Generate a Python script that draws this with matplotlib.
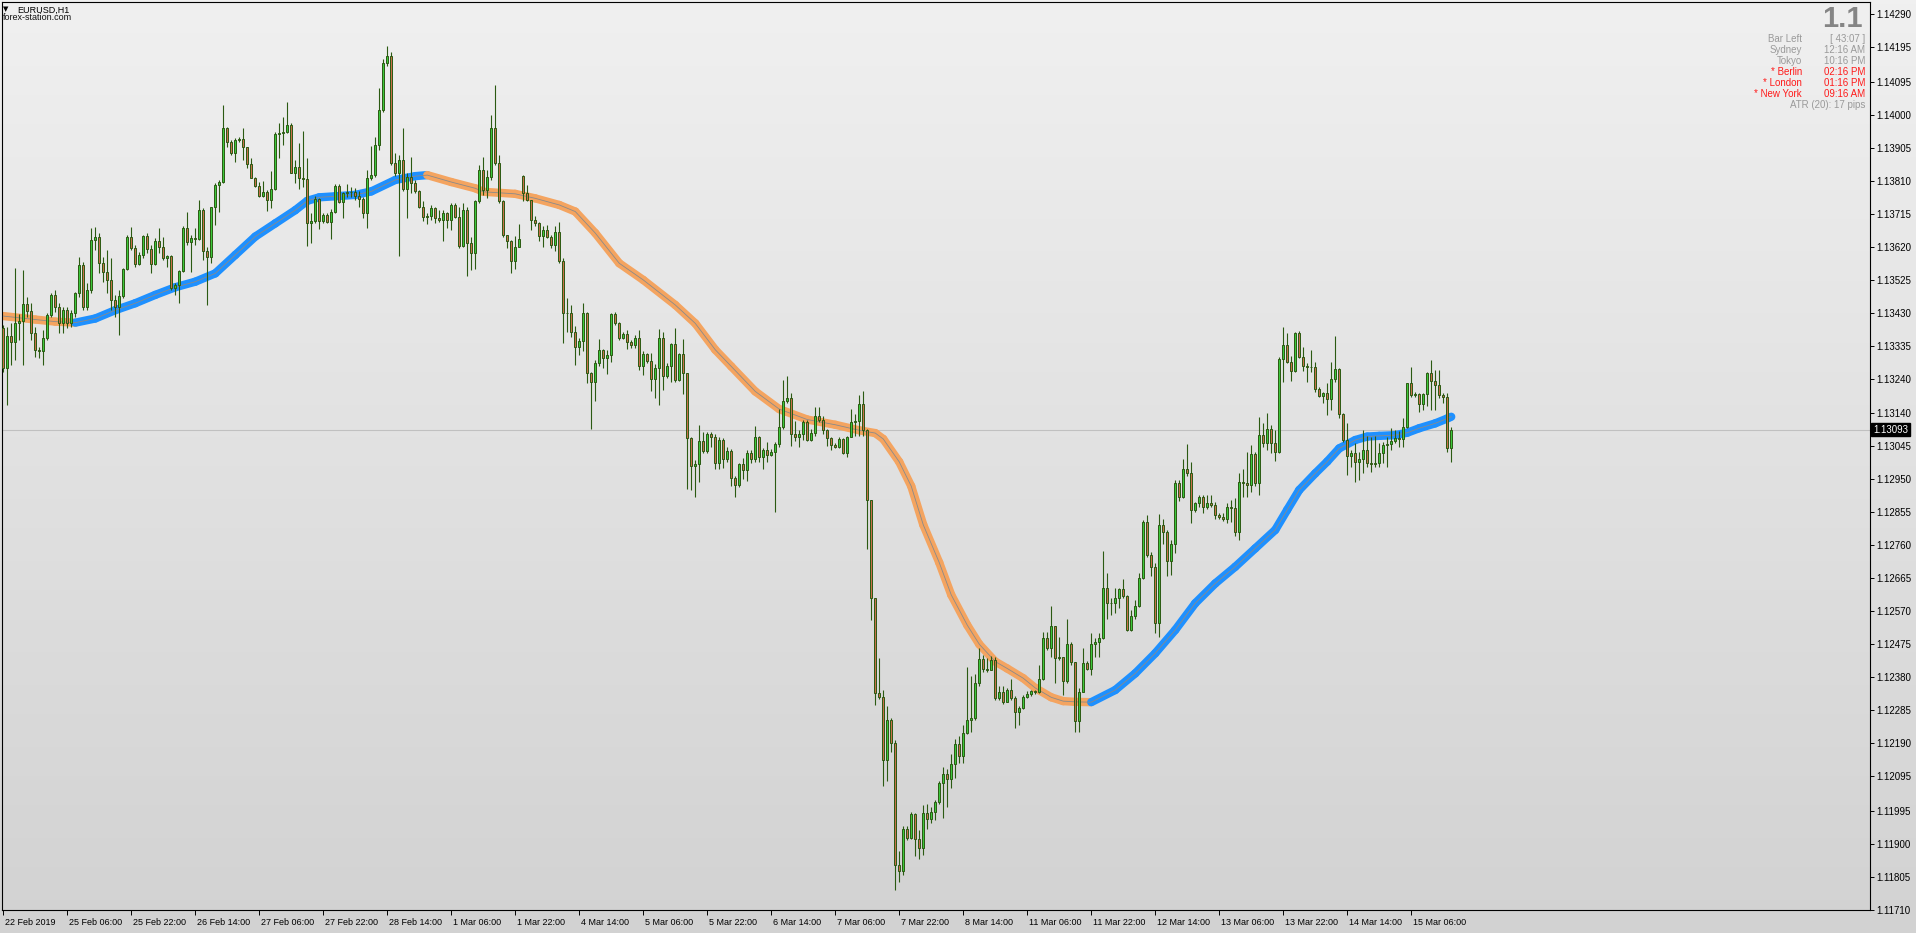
import numpy as np
import matplotlib
matplotlib.use("Agg")
import matplotlib.pyplot as plt
import matplotlib.transforms as mtransforms
from matplotlib.collections import LineCollection
from matplotlib.colors import LinearSegmentedColormap

plt.rcParams['font.family'] = ['Liberation Sans', 'DejaVu Sans']

# EURUSD H1 bars, 22 Feb 2019 14:00 .. 15 Mar 2019 16:00
opens = [
    1.13385, 1.13269, 1.13363, 1.13344, 1.13399, 1.13406, 1.13454, 1.13435, 1.13372, 1.13322,
    1.13320, 1.13356, 1.13422, 1.13481, 1.13447, 1.13399, 1.13437, 1.13399, 1.13428, 1.13485,
    1.13567, 1.13447, 1.13495, 1.13639, 1.13649, 1.13572, 1.13548, 1.13524, 1.13466, 1.13447,
    1.13478, 1.13555, 1.13649, 1.13615, 1.13569, 1.13596, 1.13651, 1.13612, 1.13569, 1.13635,
    1.13620, 1.13586, 1.13593, 1.13500, 1.13509, 1.13550, 1.13673, 1.13634, 1.13644, 1.13643,
    1.13725, 1.13607, 1.13589, 1.13733, 1.13797, 1.13807, 1.13961, 1.13920, 1.13889, 1.13927,
    1.13930, 1.13906, 1.13857, 1.13819, 1.13795, 1.13767, 1.13778, 1.13754, 1.13786, 1.13943,
    1.13948, 1.13949, 1.13970, 1.13833, 1.13848, 1.13819, 1.13814, 1.13689, 1.13694, 1.13756,
    1.13695, 1.13711, 1.13692, 1.13719, 1.13796, 1.13749, 1.13773, 1.13776, 1.13778, 1.13767,
    1.13756, 1.13718, 1.13819, 1.13826, 1.13912, 1.14014, 1.14150, 1.14170, 1.13862, 1.13831,
    1.13870, 1.13785, 1.13820, 1.13803, 1.13779, 1.13733, 1.13705, 1.13709, 1.13731, 1.13702,
    1.13697, 1.13718, 1.13697, 1.13740, 1.13705, 1.13622, 1.13726, 1.13630, 1.13603, 1.13750,
    1.13841, 1.13783, 1.13820, 1.13961, 1.13862, 1.13750, 1.13654, 1.13635, 1.13580, 1.13620,
    1.13822, 1.13774, 1.13753, 1.13697, 1.13687, 1.13652, 1.13668, 1.13649, 1.13625, 1.13661,
    1.13580, 1.13428, 1.13430, 1.13375, 1.13332, 1.13347, 1.13428, 1.13257, 1.13229, 1.13284,
    1.13323, 1.13299, 1.13308, 1.13426, 1.13399, 1.13356, 1.13368, 1.13344, 1.13336, 1.13356,
    1.13275, 1.13310, 1.13292, 1.13238, 1.13270, 1.13356, 1.13248, 1.13277, 1.13340, 1.13236,
    1.13311, 1.13257, 1.13068, 1.12989, 1.12995, 1.13061, 1.13030, 1.13081, 1.13073, 1.12996,
    1.13063, 1.13008, 1.13031, 1.12955, 1.12933, 1.12993, 1.12978, 1.13026, 1.13008, 1.13071,
    1.13013, 1.13033, 1.13019, 1.13029, 1.13051, 1.13100, 1.13174, 1.13184, 1.13081, 1.13073,
    1.13079, 1.13114, 1.13063, 1.13083, 1.13132, 1.13120, 1.13091, 1.13069, 1.13048, 1.13043,
    1.13066, 1.13026, 1.13073, 1.13114, 1.13117, 1.13167, 1.13091, 1.12889, 1.12607, 1.12334,
    1.12322, 1.12142, 1.12258, 1.12190, 1.11839, 1.11821, 1.11942, 1.11918, 1.11985, 1.11915,
    1.11889, 1.11988, 1.11972, 1.11993, 1.12021, 1.12076, 1.12100, 1.12086, 1.12130, 1.12187,
    1.12152, 1.12218, 1.12258, 1.12263, 1.12364, 1.12433, 1.12405, 1.12400, 1.12430, 1.12319,
    1.12336, 1.12309, 1.12344, 1.12319, 1.12281, 1.12291, 1.12322, 1.12332, 1.12339, 1.12338,
    1.12376, 1.12492, 1.12465, 1.12528, 1.12435, 1.12437, 1.12369, 1.12477, 1.12423, 1.12253,
    1.12336, 1.12420, 1.12405, 1.12477, 1.12482, 1.12492, 1.12636, 1.12593, 1.12595, 1.12607,
    1.12633, 1.12614, 1.12516, 1.12556, 1.12585, 1.12665, 1.12826, 1.12732, 1.12696, 1.12537,
    1.12818, 1.12799, 1.12716, 1.12765, 1.12938, 1.12898, 1.12979, 1.12967, 1.12861, 1.12881,
    1.12898, 1.12871, 1.12883, 1.12876, 1.12847, 1.12842, 1.12837, 1.12869, 1.12868, 1.12799,
    1.12943, 1.12940, 1.12933, 1.13023, 1.12938, 1.13077, 1.13055, 1.13094, 1.13055, 1.13029,
    1.13295, 1.13336, 1.13289, 1.13263, 1.13372, 1.13303, 1.13276, 1.13272, 1.13274, 1.13209,
    1.13190, 1.13197, 1.13180, 1.13238, 1.13267, 1.13138, 1.13063, 1.13017, 1.13025, 1.13001,
    1.13007, 1.13034, 1.12998, 1.12994, 1.12998, 1.13025, 1.13049, 1.13051, 1.13061, 1.13069,
    1.13065, 1.13100, 1.13226, 1.13193, 1.13196, 1.13167, 1.13196, 1.13255, 1.13234, 1.13221,
    1.13193, 1.13186, 1.13039,
]
highs = [
    1.13394, 1.13389, 1.13399, 1.13557, 1.13425, 1.13553, 1.13476, 1.13457, 1.13389, 1.13332,
    1.13380, 1.13428, 1.13485, 1.13495, 1.13457, 1.13447, 1.13447, 1.13437, 1.13490, 1.13591,
    1.13577, 1.13514, 1.13675, 1.13677, 1.13658, 1.13591, 1.13610, 1.13586, 1.13481, 1.13495,
    1.13559, 1.13653, 1.13677, 1.13625, 1.13605, 1.13653, 1.13658, 1.13625, 1.13644, 1.13675,
    1.13649, 1.13596, 1.13596, 1.13514, 1.13553, 1.13679, 1.13721, 1.13653, 1.13673, 1.13754,
    1.13730, 1.13620, 1.13735, 1.13802, 1.13812, 1.14028, 1.13965, 1.13927, 1.13932, 1.13937,
    1.13961, 1.13908, 1.13874, 1.13821, 1.13807, 1.13809, 1.13783, 1.13838, 1.13951, 1.13975,
    1.13994, 1.14037, 1.13975, 1.13869, 1.13917, 1.13954, 1.13874, 1.13716, 1.13766, 1.13759,
    1.13716, 1.13716, 1.13727, 1.13799, 1.13800, 1.13778, 1.13799, 1.13793, 1.13788, 1.13781,
    1.13764, 1.13841, 1.13910, 1.13937, 1.14076, 1.14160, 1.14198, 1.14180, 1.13889, 1.13884,
    1.13961, 1.13831, 1.13877, 1.13812, 1.13783, 1.13750, 1.13716, 1.13740, 1.13735, 1.13726,
    1.13726, 1.13720, 1.13745, 1.13747, 1.13735, 1.13747, 1.13735, 1.13649, 1.13755, 1.13855,
    1.13877, 1.13841, 1.13999, 1.14086, 1.13884, 1.13755, 1.13654, 1.13639, 1.13651, 1.13686,
    1.13827, 1.13798, 1.13755, 1.13707, 1.13692, 1.13678, 1.13683, 1.13654, 1.13678, 1.13692,
    1.13587, 1.13471, 1.13452, 1.13390, 1.13356, 1.13457, 1.13433, 1.13260, 1.13294, 1.13353,
    1.13325, 1.13323, 1.13428, 1.13433, 1.13404, 1.13375, 1.13380, 1.13351, 1.13366, 1.13380,
    1.13318, 1.13315, 1.13315, 1.13283, 1.13382, 1.13375, 1.13286, 1.13342, 1.13385, 1.13315,
    1.13353, 1.13257, 1.13073, 1.13006, 1.13107, 1.13087, 1.13087, 1.13087, 1.13081, 1.13073,
    1.13068, 1.13044, 1.13036, 1.12960, 1.12998, 1.13011, 1.13033, 1.13033, 1.13104, 1.13076,
    1.13041, 1.13056, 1.13036, 1.13056, 1.13152, 1.13235, 1.13248, 1.13197, 1.13117, 1.13091,
    1.13122, 1.13122, 1.13096, 1.13157, 1.13157, 1.13132, 1.13096, 1.13071, 1.13053, 1.13071,
    1.13069, 1.13076, 1.13152, 1.13137, 1.13192, 1.13205, 1.13096, 1.12891, 1.12609, 1.12435,
    1.12344, 1.12298, 1.12263, 1.12200, 1.11879, 1.11950, 1.11950, 1.11992, 1.11990, 1.11940,
    1.12012, 1.12016, 1.12006, 1.12026, 1.12081, 1.12122, 1.12117, 1.12160, 1.12202, 1.12211,
    1.12243, 1.12410, 1.12384, 1.12389, 1.12463, 1.12445, 1.12435, 1.12440, 1.12437, 1.12354,
    1.12354, 1.12349, 1.12374, 1.12326, 1.12298, 1.12329, 1.12339, 1.12344, 1.12344, 1.12414,
    1.12511, 1.12511, 1.12586, 1.12528, 1.12497, 1.12437, 1.12548, 1.12480, 1.12425, 1.12349,
    1.12465, 1.12427, 1.12508, 1.12492, 1.12506, 1.12744, 1.12679, 1.12607, 1.12636, 1.12636,
    1.12662, 1.12617, 1.12573, 1.12602, 1.12679, 1.12833, 1.12847, 1.12741, 1.12708, 1.12850,
    1.12837, 1.12804, 1.12775, 1.12948, 1.12948, 1.13007, 1.13052, 1.13001, 1.12885, 1.12905,
    1.12905, 1.12905, 1.12905, 1.12885, 1.12852, 1.12854, 1.12881, 1.12890, 1.12895, 1.12969,
    1.12981, 1.13029, 1.13049, 1.13029, 1.13130, 1.13113, 1.13140, 1.13106, 1.13092, 1.13303,
    1.13388, 1.13372, 1.13305, 1.13375, 1.13378, 1.13330, 1.13284, 1.13322, 1.13289, 1.13217,
    1.13202, 1.13226, 1.13289, 1.13363, 1.13269, 1.13142, 1.13111, 1.13034, 1.13053, 1.13029,
    1.13092, 1.13075, 1.13071, 1.13075, 1.13053, 1.13058, 1.13073, 1.13097, 1.13092, 1.13090,
    1.13125, 1.13228, 1.13274, 1.13202, 1.13197, 1.13197, 1.13260, 1.13293, 1.13265, 1.13265,
    1.13199, 1.13197, 1.13101,
]
lows = [
    1.13260, 1.13164, 1.13279, 1.13293, 1.13351, 1.13279, 1.13418, 1.13351, 1.13303, 1.13298,
    1.13279, 1.13351, 1.13418, 1.13433, 1.13372, 1.13370, 1.13385, 1.13389, 1.13418, 1.13476,
    1.13437, 1.13437, 1.13485, 1.13610, 1.13543, 1.13519, 1.13485, 1.13437, 1.13418, 1.13365,
    1.13471, 1.13553, 1.13610, 1.13562, 1.13567, 1.13586, 1.13601, 1.13543, 1.13567, 1.13601,
    1.13581, 1.13562, 1.13495, 1.13481, 1.13457, 1.13548, 1.13625, 1.13548, 1.13625, 1.13639,
    1.13581, 1.13452, 1.13572, 1.13682, 1.13721, 1.13802, 1.13908, 1.13884, 1.13865, 1.13922,
    1.13869, 1.13845, 1.13817, 1.13793, 1.13762, 1.13764, 1.13723, 1.13730, 1.13783, 1.13874,
    1.13913, 1.13946, 1.13831, 1.13802, 1.13786, 1.13793, 1.13623, 1.13629, 1.13687, 1.13670,
    1.13687, 1.13687, 1.13642, 1.13716, 1.13745, 1.13701, 1.13764, 1.13764, 1.13754, 1.13735,
    1.13701, 1.13673, 1.13812, 1.13820, 1.13899, 1.14009, 1.14140, 1.13855, 1.13822, 1.13594,
    1.13779, 1.13702, 1.13774, 1.13774, 1.13731, 1.13695, 1.13685, 1.13697, 1.13687, 1.13692,
    1.13637, 1.13673, 1.13668, 1.13702, 1.13615, 1.13620, 1.13534, 1.13553, 1.13555, 1.13745,
    1.13769, 1.13759, 1.13812, 1.13855, 1.13745, 1.13649, 1.13615, 1.13545, 1.13555, 1.13630,
    1.13750, 1.13750, 1.13668, 1.13678, 1.13637, 1.13618, 1.13644, 1.13615, 1.13606, 1.13572,
    1.13342, 1.13375, 1.13361, 1.13279, 1.13308, 1.13318, 1.13227, 1.13094, 1.13174, 1.13275,
    1.13270, 1.13253, 1.13289, 1.13395, 1.13351, 1.13353, 1.13325, 1.13327, 1.13327, 1.13265,
    1.13251, 1.13284, 1.13205, 1.13183, 1.13164, 1.13207, 1.13241, 1.13231, 1.13231, 1.13234,
    1.13196, 1.12921, 1.12919, 1.12898, 1.12943, 1.13025, 1.13025, 1.13044, 1.12979, 1.12979,
    1.12982, 1.13001, 1.12930, 1.12899, 1.12928, 1.12950, 1.12945, 1.12998, 1.13000, 1.13000,
    1.12980, 1.13000, 1.13016, 1.12857, 1.13043, 1.13096, 1.13170, 1.13046, 1.13061, 1.13043,
    1.13063, 1.13059, 1.13059, 1.13076, 1.13114, 1.13081, 1.13046, 1.13033, 1.13039, 1.13041,
    1.13023, 1.13013, 1.13071, 1.13076, 1.13076, 1.13076, 1.12748, 1.12544, 1.12299, 1.12316,
    1.12066, 1.12081, 1.12164, 1.11768, 1.11790, 1.11809, 1.11910, 1.11915, 1.11864, 1.11857,
    1.11869, 1.11942, 1.11960, 1.11970, 1.12016, 1.11975, 1.12006, 1.12061, 1.12091, 1.12132,
    1.12132, 1.12215, 1.12223, 1.12258, 1.12354, 1.12394, 1.12394, 1.12400, 1.12314, 1.12314,
    1.12304, 1.12309, 1.12314, 1.12233, 1.12243, 1.12288, 1.12319, 1.12326, 1.12332, 1.12334,
    1.12372, 1.12457, 1.12437, 1.12364, 1.12430, 1.12329, 1.12364, 1.12415, 1.12223, 1.12221,
    1.12336, 1.12400, 1.12386, 1.12439, 1.12439, 1.12489, 1.12549, 1.12559, 1.12564, 1.12578,
    1.12607, 1.12514, 1.12514, 1.12549, 1.12583, 1.12662, 1.12727, 1.12670, 1.12506, 1.12497,
    1.12765, 1.12671, 1.12674, 1.12737, 1.12888, 1.12895, 1.12958, 1.12823, 1.12857, 1.12871,
    1.12852, 1.12863, 1.12871, 1.12837, 1.12837, 1.12831, 1.12825, 1.12828, 1.12787, 1.12775,
    1.12898, 1.12900, 1.12914, 1.12931, 1.12905, 1.13044, 1.13034, 1.13025, 1.13004, 1.13027,
    1.13231, 1.13284, 1.13234, 1.13260, 1.13298, 1.13263, 1.13231, 1.13260, 1.13202, 1.13186,
    1.13171, 1.13135, 1.13149, 1.13231, 1.13125, 1.13058, 1.12962, 1.12986, 1.12943, 1.12948,
    1.12967, 1.12986, 1.12972, 1.12986, 1.12986, 1.12996, 1.12986, 1.13034, 1.13055, 1.13044,
    1.13044, 1.13097, 1.13186, 1.13186, 1.13145, 1.13149, 1.13161, 1.13149, 1.13149, 1.13183,
    1.13169, 1.13029, 1.13001,
]
closes = [
    1.13269, 1.13363, 1.13344, 1.13399, 1.13406, 1.13454, 1.13435, 1.13372, 1.13322, 1.13320,
    1.13356, 1.13422, 1.13481, 1.13447, 1.13399, 1.13437, 1.13399, 1.13428, 1.13485, 1.13567,
    1.13447, 1.13495, 1.13639, 1.13649, 1.13572, 1.13548, 1.13524, 1.13466, 1.13447, 1.13478,
    1.13555, 1.13649, 1.13615, 1.13569, 1.13596, 1.13651, 1.13612, 1.13569, 1.13635, 1.13620,
    1.13586, 1.13593, 1.13500, 1.13509, 1.13550, 1.13673, 1.13634, 1.13644, 1.13643, 1.13725,
    1.13607, 1.13589, 1.13733, 1.13797, 1.13807, 1.13961, 1.13920, 1.13889, 1.13927, 1.13930,
    1.13906, 1.13857, 1.13819, 1.13795, 1.13767, 1.13778, 1.13754, 1.13786, 1.13943, 1.13948,
    1.13949, 1.13970, 1.13833, 1.13848, 1.13819, 1.13814, 1.13689, 1.13694, 1.13756, 1.13695,
    1.13711, 1.13692, 1.13719, 1.13796, 1.13749, 1.13773, 1.13776, 1.13778, 1.13767, 1.13756,
    1.13718, 1.13819, 1.13826, 1.13912, 1.14014, 1.14150, 1.14170, 1.13862, 1.13831, 1.13870,
    1.13785, 1.13820, 1.13803, 1.13779, 1.13733, 1.13705, 1.13709, 1.13731, 1.13702, 1.13697,
    1.13718, 1.13697, 1.13740, 1.13705, 1.13622, 1.13726, 1.13630, 1.13603, 1.13750, 1.13841,
    1.13783, 1.13820, 1.13961, 1.13862, 1.13750, 1.13654, 1.13635, 1.13580, 1.13620, 1.13641,
    1.13774, 1.13753, 1.13697, 1.13687, 1.13652, 1.13668, 1.13649, 1.13625, 1.13661, 1.13580,
    1.13428, 1.13430, 1.13375, 1.13332, 1.13347, 1.13428, 1.13257, 1.13229, 1.13284, 1.13323,
    1.13299, 1.13308, 1.13426, 1.13399, 1.13356, 1.13368, 1.13344, 1.13336, 1.13356, 1.13275,
    1.13310, 1.13292, 1.13238, 1.13270, 1.13356, 1.13248, 1.13277, 1.13340, 1.13236, 1.13311,
    1.13257, 1.13068, 1.12989, 1.12995, 1.13061, 1.13030, 1.13081, 1.13073, 1.12996, 1.13063,
    1.13008, 1.13031, 1.12955, 1.12933, 1.12993, 1.12978, 1.13026, 1.13008, 1.13071, 1.13013,
    1.13033, 1.13019, 1.13029, 1.13051, 1.13100, 1.13174, 1.13184, 1.13081, 1.13073, 1.13079,
    1.13114, 1.13063, 1.13083, 1.13132, 1.13120, 1.13091, 1.13069, 1.13048, 1.13043, 1.13066,
    1.13026, 1.13073, 1.13114, 1.13117, 1.13167, 1.13091, 1.12889, 1.12607, 1.12334, 1.12322,
    1.12142, 1.12258, 1.12190, 1.11839, 1.11821, 1.11942, 1.11918, 1.11985, 1.11915, 1.11889,
    1.11988, 1.11972, 1.11993, 1.12021, 1.12076, 1.12100, 1.12086, 1.12130, 1.12187, 1.12152,
    1.12218, 1.12258, 1.12263, 1.12364, 1.12433, 1.12405, 1.12400, 1.12430, 1.12319, 1.12336,
    1.12309, 1.12344, 1.12319, 1.12281, 1.12291, 1.12322, 1.12332, 1.12339, 1.12338, 1.12376,
    1.12492, 1.12465, 1.12528, 1.12435, 1.12437, 1.12369, 1.12477, 1.12423, 1.12253, 1.12336,
    1.12420, 1.12405, 1.12477, 1.12482, 1.12492, 1.12636, 1.12593, 1.12595, 1.12607, 1.12633,
    1.12614, 1.12516, 1.12556, 1.12585, 1.12665, 1.12826, 1.12732, 1.12696, 1.12537, 1.12818,
    1.12799, 1.12716, 1.12765, 1.12938, 1.12898, 1.12979, 1.12967, 1.12861, 1.12881, 1.12898,
    1.12871, 1.12883, 1.12876, 1.12847, 1.12842, 1.12837, 1.12869, 1.12868, 1.12799, 1.12943,
    1.12940, 1.12933, 1.13023, 1.12938, 1.13077, 1.13055, 1.13094, 1.13055, 1.13029, 1.13295,
    1.13336, 1.13289, 1.13263, 1.13372, 1.13303, 1.13276, 1.13272, 1.13274, 1.13209, 1.13190,
    1.13197, 1.13180, 1.13238, 1.13267, 1.13138, 1.13063, 1.13017, 1.13025, 1.13001, 1.13007,
    1.13034, 1.12998, 1.12994, 1.12998, 1.13025, 1.13049, 1.13051, 1.13061, 1.13069, 1.13065,
    1.13100, 1.13226, 1.13193, 1.13196, 1.13167, 1.13196, 1.13255, 1.13234, 1.13221, 1.13193,
    1.13186, 1.13039, 1.13093,
]

# smoothed moving average, sampled at these bars
ma_bars = [0, 8, 13, 18, 23, 28, 33, 38, 43, 48, 53, 58, 63, 68, 73, 76, 79, 83, 88, 92,
           98, 103, 106, 112, 118, 120, 128, 133, 139, 143, 148, 154, 160, 168, 173, 178, 182, 188, 194, 201,
           208, 214, 218, 220, 224, 227, 230, 234, 237, 241, 244, 248, 251, 255, 258, 262, 265, 268, 272, 278,
           283, 288, 293, 298, 303, 308, 313, 318, 321, 324, 328, 331, 334, 338, 341, 344, 348, 351, 354, 358,
           361, 362]
ma_values = [1.13420, 1.13410, 1.13404, 1.13401, 1.13413, 1.13437, 1.13457, 1.13481, 1.13503, 1.13519,
             1.13543, 1.13596, 1.13649, 1.13687, 1.13725, 1.13752, 1.13762, 1.13765, 1.13769, 1.13779,
             1.13812, 1.13823, 1.13826, 1.13806, 1.13788, 1.13778, 1.13772, 1.13759, 1.13740, 1.13721,
             1.13659, 1.13572, 1.13524, 1.13452, 1.13399, 1.13323, 1.13275, 1.13203, 1.13152, 1.13122,
             1.13107, 1.13091, 1.13083, 1.13066, 1.13000, 1.12930, 1.12819, 1.12710, 1.12617, 1.12530,
             1.12475, 1.12425, 1.12405, 1.12377, 1.12349, 1.12322, 1.12311, 1.12309, 1.12308, 1.12343,
             1.12391, 1.12449, 1.12516, 1.12593, 1.12650, 1.12698, 1.12751, 1.12804, 1.12862, 1.12919,
             1.12967, 1.13001, 1.13039, 1.13063, 1.13073, 1.13075, 1.13077, 1.13084, 1.13097, 1.13111,
             1.13125, 1.13130]

price_labels = ["1.14290", "1.14195", "1.14095", "1.14000", "1.13905", "1.13810", "1.13715",
                "1.13620", "1.13525", "1.13430", "1.13335", "1.13240", "1.13140", "1.13045",
                "1.12950", "1.12855", "1.12760", "1.12665", "1.12570", "1.12475", "1.12380",
                "1.12285", "1.12190", "1.12095", "1.11995", "1.11900", "1.11805", "1.11710"]
time_labels = ["22 Feb 2019", "25 Feb 06:00", "25 Feb 22:00", "26 Feb 14:00", "27 Feb 06:00",
               "27 Feb 22:00", "28 Feb 14:00", "1 Mar 06:00", "1 Mar 22:00", "4 Mar 14:00",
               "5 Mar 06:00", "5 Mar 22:00", "6 Mar 14:00", "7 Mar 06:00", "7 Mar 22:00",
               "8 Mar 14:00", "11 Mar 06:00", "11 Mar 22:00", "12 Mar 14:00", "13 Mar 06:00",
               "13 Mar 22:00", "14 Mar 14:00", "15 Mar 06:00"]
bars_per_label = 16

EDGE = "#2b5a12"
BULL = "#3cc83c"
BEAR = "#c8704a"
MA_UP = "#1e90ff"
MA_DN = "#f4a460"

W, H = 1916, 933
fig = plt.figure(figsize=(W / 100, H / 100), dpi=100)

# terminal-like vertical gradient behind everything
bg = fig.add_axes([0, 0, 1, 1])
bg.imshow(np.linspace(0, 1, 256).reshape(-1, 1), aspect="auto", extent=(0, 1, 0, 1),
          cmap=LinearSegmentedColormap.from_list("bg", ["#f0f0f0", "#d2d2d2"]))
bg.set_axis_off()

ax = fig.add_axes([2 / W, 23 / H, 1868 / W, 908 / H])
ax.patch.set_visible(False)

x = np.arange(len(closes))
o = np.array(opens)
c = np.array(closes)
up = c >= o

# moving average: thick coloured band + thin grey line
mb = np.array(ma_bars, dtype=float)
mv = np.array(ma_values)
pts = np.column_stack([mb, mv])
segs = np.stack([pts[:-1], pts[1:]], axis=1)
seg_cols = [MA_DN if b < a else MA_UP for a, b in zip(mv[:-1], mv[1:])]
ax.add_collection(LineCollection(segs, colors=seg_cols, linewidths=6, capstyle="round", zorder=2))
ax.plot(mb, mv, color="#8a8a8a", lw=0.6, zorder=3)

ax.axhline(closes[-1], color="#c0c0c0", lw=0.8, zorder=1)

ax.vlines(x, lows, highs, color=EDGE, lw=0.8, zorder=4)
ax.bar(x, np.abs(c - o), bottom=np.minimum(o, c), width=0.6,
       color=[BULL if u else BEAR for u in up], edgecolor=EDGE, linewidth=0.7, zorder=5)

ax.set_xlim(-0.325, 466.7)
ax.set_ylim(1.117095, 1.143245)

ax.yaxis.tick_right()
ax.set_yticks([float(s) for s in price_labels])
ax.set_yticklabels(price_labels)
ax.tick_params(axis="y", direction="out", length=3, width=0.7, pad=1.5, labelsize=7)

ax.set_xticks(np.arange(len(time_labels)) * bars_per_label)
ax.set_xticklabels(time_labels, ha="left")
ax.tick_params(axis="x", direction="out", length=3.5, width=0.7, pad=2, labelsize=6.5)
shift = mtransforms.ScaledTranslation(1.5 / 100, 0, fig.dpi_scale_trans)
for lab in ax.get_xticklabels():
    lab.set_transform(lab.get_transform() + shift)

for sp in ax.spines.values():
    sp.set_linewidth(0.8)
    sp.set_color("black")

ax.annotate(f"{closes[-1]:.5f}", xy=(1, closes[-1]), xycoords=("axes fraction", "data"),
            xytext=(2.2, 0), textcoords="offset points", ha="left", va="center",
            fontsize=7, color="white", annotation_clip=False, zorder=10,
            bbox=dict(boxstyle="square,pad=0.18", fc="black", ec="black"))


def fpos(px, py):
    return px / W, 1 - py / H


fig.text(*fpos(3, 9), "\u25bc", fontsize=5, va="center", ha="left", family=["DejaVu Sans"])
fig.text(*fpos(17, 10), "EURUSD,H1", fontsize=6.5, va="center", ha="left")
fig.text(*fpos(3, 18), "forex-station.com", fontsize=6.5, va="center", ha="left", color="#111111")

# info panel, top right
GREY = "#9a9a9a"
fig.text(*fpos(1863, 19), "1.1", fontsize=21, fontweight="bold", color="#858585", ha="right", va="center")
rows = [("Bar Left", "[ 43:07 ]", GREY), ("Sydney", "12:16 AM", GREY), ("Tokyo", "10:16 PM", GREY),
        ("* Berlin", "02:16 PM", "#ff1a1a"), ("* London", "01:16 PM", "#ff1a1a"),
        ("* New York", "09:16 AM", "#ff1a1a")]
for k, (name, val, col) in enumerate(rows):
    y = 39 + 11 * k
    fig.text(*fpos(1802, y), name, fontsize=7, color=col, ha="right", va="center")
    fig.text(*fpos(1865, y), val, fontsize=7, color=col, ha="right", va="center")
fig.text(*fpos(1865, 105), "ATR (20): 17 pips", fontsize=7, color=GREY, ha="right", va="center")

fig.savefig("out.png", dpi=100)
